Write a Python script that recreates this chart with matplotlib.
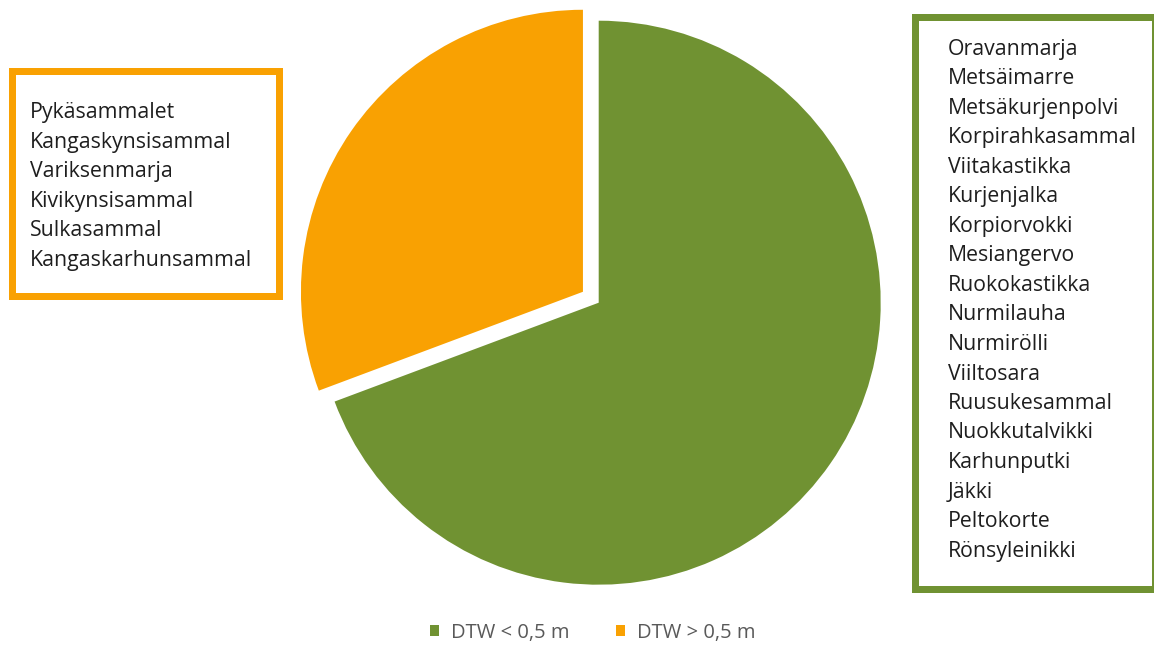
import matplotlib
matplotlib.use("Agg")
import matplotlib.pyplot as plt
from matplotlib.patches import Rectangle

# data
labels = ["DTW < 0,5 m", "DTW > 0,5 m"]
values = [69.3, 30.7]
colors = ["#709232", "#F9A102"]

wet_species = ["Oravanmarja", "Metsäimarre", "Metsäkurjenpolvi", "Korpirahkasammal",
               "Viitakastikka", "Kurjenjalka", "Korpiorvokki", "Mesiangervo",
               "Ruokokastikka", "Nurmilauha", "Nurmirölli", "Viiltosara",
               "Ruusukesammal", "Nuokkutalvikki", "Karhunputki", "Jäkki",
               "Peltokorte", "Rönsyleinikki"]
dry_species = ["Pykäsammalet", "Kangaskynsisammal", "Variksenmarja",
               "Kivikynsisammal", "Sulkasammal", "Kangaskarhunsammal"]

W, H = 1154, 646
plt.rcParams['font.family'] = ['Open Sans', 'DejaVu Sans']
fig = plt.figure(figsize=(W / 100, H / 100), dpi=100)

def fx(x): return x / W
def fy(y): return 1 - y / H

# pie axes, square in pixels
cx, cy, R = 598.7, 302.7, 282
lim = 1.2
side = 2 * lim * R
ax = fig.add_axes([fx(cx - side / 2), fy(cy + side / 2), side / W, side / H])
wedges, _ = ax.pie(values, colors=colors, startangle=90, counterclock=False,
                   explode=[0, 0.068], radius=1,
                   wedgeprops=dict(linewidth=0))
ax.set_xlim(-lim, lim)
ax.set_ylim(-lim, lim)
ax.set_aspect('auto')
ax.axis('off')

# boxes with species lists
lw = 7 * 72 / 100
fig.patches.append(Rectangle((fx(12), fy(296)), fx(279) - fx(12), fy(70.5) - fy(296),
                             transform=fig.transFigure, fill=False,
                             edgecolor=colors[1], linewidth=lw, joinstyle='miter'))
fig.patches.append(Rectangle((fx(915), fy(589)), fx(1154.5) - fx(915), fy(16.5) - fy(589),
                             transform=fig.transFigure, fill=False,
                             edgecolor=colors[0], linewidth=lw, joinstyle='miter'))

fs = 15.3
for i, s in enumerate(dry_species):
    fig.text(fx(30), fy(110 + i * 29.6), s, fontsize=fs, color="#1e1e1e",
             va='center_baseline', ha='left')
for i, s in enumerate(wet_species):
    fig.text(fx(948), fy(47 + i * 29.5), s, fontsize=fs, color="#1e1e1e",
             va='center_baseline', ha='left')

fig.legend(wedges, labels, loc='center', bbox_to_anchor=(fx(593), fy(633)),
           ncol=2, frameon=False, fontsize=14.5, labelcolor="#595959",
           handlelength=0.45, handleheight=0.45, handletextpad=0.6, columnspacing=2.3)

fig.savefig("out.png", dpi=100)
